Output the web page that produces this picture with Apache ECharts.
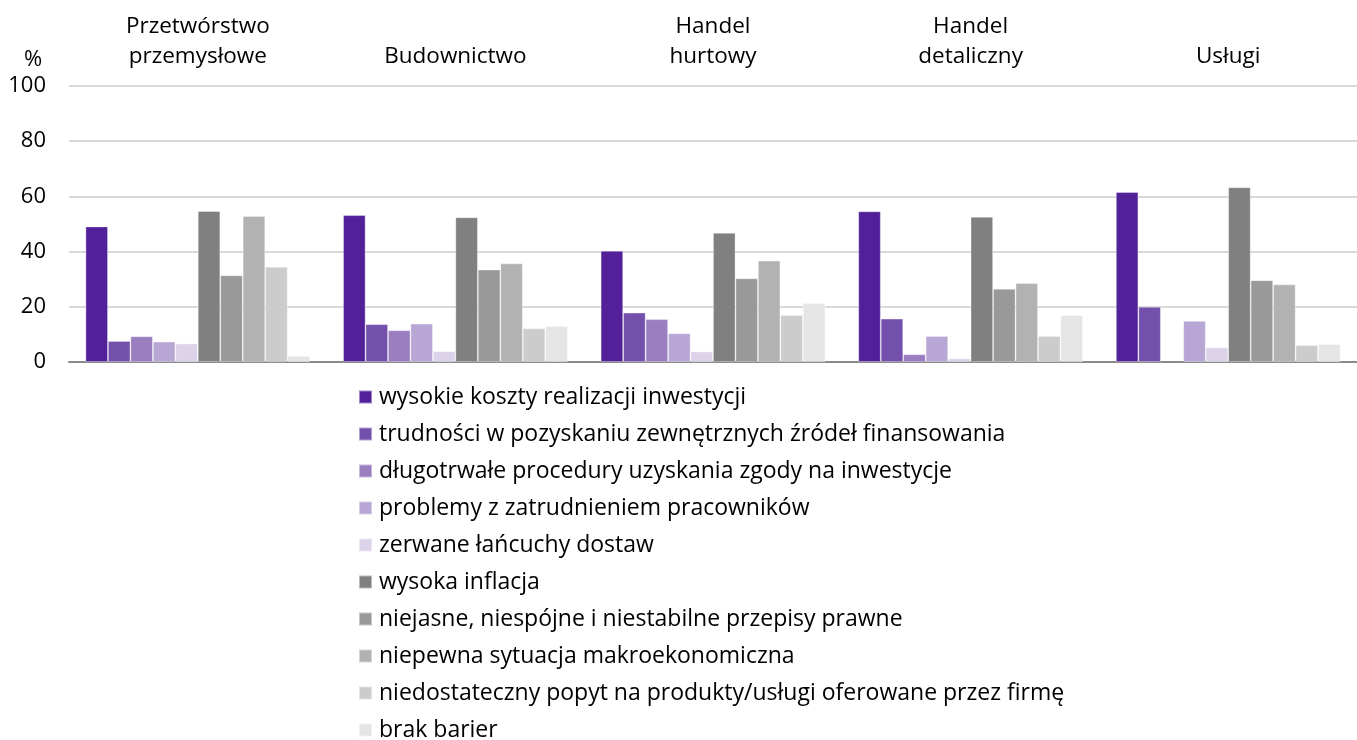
<!DOCTYPE html>
<html>
<head>
<meta charset="utf-8">
<script src="https://cdn.jsdelivr.net/npm/echarts@6/dist/echarts.min.js"></script>
<style>
html,body{margin:0;padding:0;background:#fff;}
#chart{width:1357px;height:740px;}
</style>
</head>
<body>
<div id="chart"></div>
<script>
const categories = ['Przetwórstwo\nprzemysłowe', 'Budownictwo', 'Handel\nhurtowy', 'Handel\ndetaliczny', 'Usługi'];
const yTicks = [0, 20, 40, 60, 80, 100];

const seriesNames = [
  'wysokie koszty realizacji inwestycji',
  'trudności w pozyskaniu zewnętrznych źródeł finansowania',
  'długotrwałe procedury uzyskania zgody na inwestycje',
  'problemy z zatrudnieniem pracowników',
  'zerwane łańcuchy dostaw',
  'wysoka inflacja',
  'niejasne, niespójne i niestabilne przepisy prawne',
  'niepewna sytuacja makroekonomiczna',
  'niedostateczny popyt na produkty/usługi oferowane przez firmę',
  'brak barier'
];

const wysokieKoszty   = [49.1, 53.2, 40.3, 54.6, 61.6];
const trudnosci       = [7.6, 13.7, 17.9, 15.7, 20.0];
const dlugotrwale     = [9.3, 11.5, 15.5, 2.8, null];
const problemy        = [7.4, 13.9, 10.4, 9.4, 14.9];
const zerwane         = [6.7, 3.9, 3.8, 1.3, 5.3];
const inflacja        = [54.7, 52.4, 46.8, 52.6, 63.3];
const niejasne        = [31.4, 33.5, 30.3, 26.5, 29.6];
const niepewna        = [52.9, 35.7, 36.7, 28.6, 28.1];
const niedostateczny  = [34.5, 12.2, 17.0, 9.4, 6.1];
const brakBarier      = [2.2, 13.0, 21.3, 17.0, 6.5];

const seriesValues = [wysokieKoszty, trudnosci, dlugotrwale, problemy, zerwane,
  inflacja, niejasne, niepewna, niedostateczny, brakBarier];

const colors = ['#52219a', '#7450ad', '#9a7ec0', '#b8a6d5', '#dcd2ea',
  '#808080', '#999999', '#b2b2b2', '#cccccc', '#e5e5e5'];

const FONT = "'Open Sans', 'Noto Sans', sans-serif";

const chart = echarts.init(document.getElementById('chart'), null, {renderer: 'canvas'});

const series = seriesNames.map((name, i) => ({
  name: name,
  type: 'bar',
  xAxisIndex: 0,
  yAxisIndex: 0,
  data: seriesValues[i],
  barGap: '0%',
  barCategoryGap: '12.8%',
  itemStyle: {color: colors[i], borderColor: 'rgba(255,255,255,0.45)', borderWidth: 0.8},
  emphasis: {disabled: true},
  animation: false
}));

chart.setOption({
  animation: false,
  color: colors,
  textStyle: {fontFamily: FONT, color: '#000'},
  grid: [{left: 69, width: 1297, top: 86, height: 276}],
  graphic: [{
    type: 'text', left: 24, top: 49,
    style: {text: '%', fontSize: 22, fontFamily: FONT, fill: '#000'}
  }],
  xAxis: [{
    type: 'category',
    data: categories,
    position: 'top',
    gridIndex: 0,
    axisLine: {show: false},
    axisTick: {show: false},
    axisLabel: {fontSize: 22.5, lineHeight: 30, margin: 14, color: '#000', fontFamily: FONT, interval: 0}
  }, {
    type: 'category',
    data: categories,
    position: 'bottom',
    gridIndex: 0,
    axisLine: {show: true, lineStyle: {color: '#8a8a8a', width: 2}},
    axisTick: {show: false},
    axisLabel: {show: false}
  }],
  yAxis: [{
    type: 'value',
    gridIndex: 0,
    min: yTicks[0],
    max: yTicks[yTicks.length - 1],
    interval: 20,
    axisLine: {show: false},
    axisTick: {show: false},
    axisLabel: {fontSize: 22, color: '#000', margin: 23, fontFamily: FONT},
    splitLine: {lineStyle: {color: '#d9d9d9', width: 2}}
  }],
  legend: {
    orient: 'vertical',
    left: 358,
    top: 385,
    height: 380,
    padding: 0,
    itemWidth: 13,
    itemHeight: 13,
    itemGap: 13,
    icon: 'rect',
    selectedMode: false,
    data: seriesNames,
    textStyle: {fontSize: 23, lineHeight: 24, color: '#000', fontFamily: FONT, padding: [0, 0, 0, 2]}
  },
  series: series
});
</script>
</body>
</html>
